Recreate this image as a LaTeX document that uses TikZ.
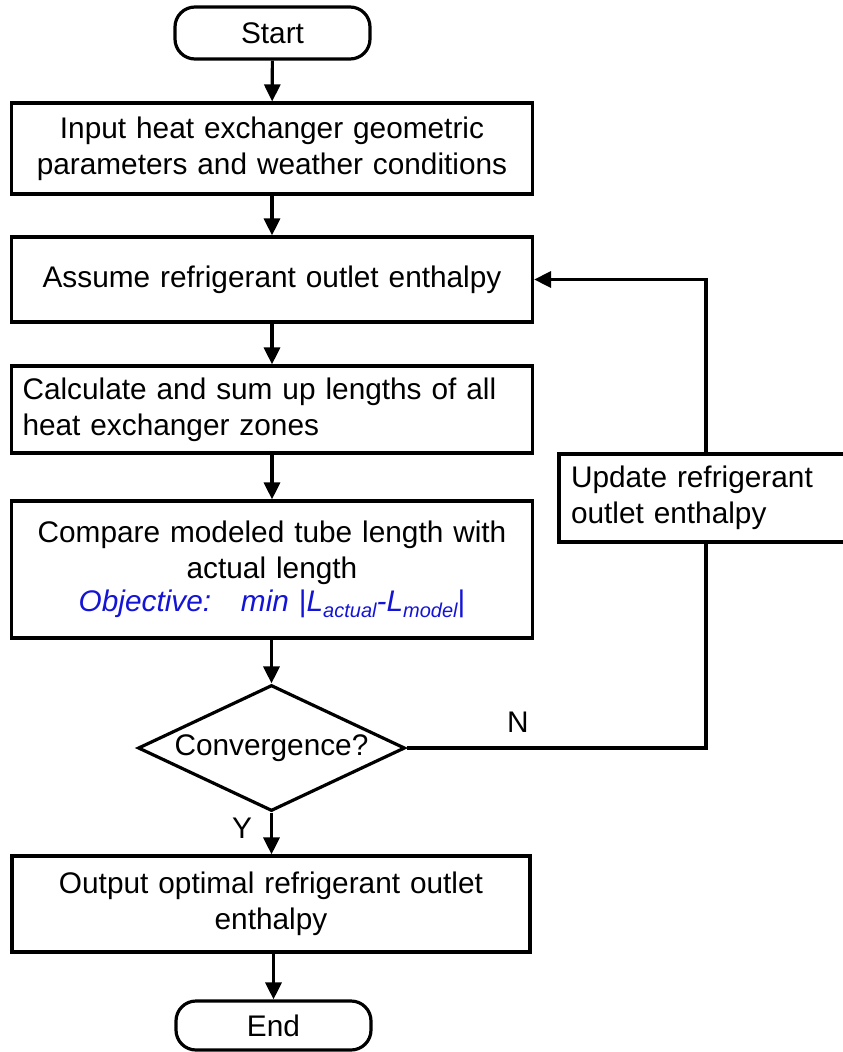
\documentclass[tikz,border=0pt]{standalone}
\usepackage{fontspec}
\setmainfont{Liberation Sans}
\usetikzlibrary{arrows.meta,shapes.geometric}
\definecolor{objblue}{RGB}{20,20,215}

% subscript set smaller and lowered
\newcommand{\lowsub}[1]{{\fontsize{20}{20}\selectfont\raisebox{-6pt}{#1}}}

\begin{document}
\begin{tikzpicture}[x=1pt,y=-1pt,
  font=\fontsize{29.8}{36}\selectfont,
  plain/.style={line width=3.2pt},
  flow/.style={line width=3.2pt, -{Triangle[length=17pt,width=16pt]}},
  procbox/.style={draw, rectangle, line width=3.2pt, inner xsep=11pt, inner ysep=0pt,
                  text width=499pt, align=center},
  term/.style={draw, rectangle, rounded corners=20pt, line width=3.2pt,
               minimum width=195pt, inner sep=0pt},
  decision/.style={draw, diamond, shape aspect=2.1, line width=3.2pt,
                   minimum width=267pt, minimum height=126pt, inner sep=0pt},
  lbl/.style={inner sep=0pt}
]
\useasboundingbox (0,0) rectangle (843,1052);
\clip (0,0) rectangle (843,1052);

% main column
\node[term, minimum height=52pt] (start) at (272.5,33) {Start};
\node[procbox, minimum height=91pt] (inp) at (272,148.5)
  {Input heat exchanger geometric\\parameters and weather conditions};
\node[procbox, minimum height=85pt] (assume) at (272,279.5)
  {Assume refrigerant outlet enthalpy};
\node[procbox, align=left, minimum height=87pt] (calc) at (272,409.5)
  {Calculate and sum up lengths of all\\heat exchanger zones};
\node[procbox, minimum height=137pt] (comp) at (272,569.5)
  {Compare modeled tube length with\\actual length\\[-3pt]
   {\color{objblue}\itshape Objective:\ \ \ min {\upshape|}L\lowsub{actual}-L\lowsub{model}{\upshape|}}};
\node[decision] (conv) at (271.5,748) {Convergence?};
\node[procbox, text width=496pt, minimum height=96pt] (out) at (271,904)
  {Output optimal refrigerant outlet\\enthalpy};
\node[term, minimum height=49pt] (end) at (273.5,1025.5) {End};

% update box on the return path
\node[draw, rectangle, line width=3.2pt, inner xsep=12pt, inner ysep=0pt,
      text width=267pt, align=left, minimum height=88pt] (upd) at (704.5,498)
  {Update refrigerant\\outlet enthalpy};
\coordinate (fb) at (706,748);

% labels
\node[lbl] (nlab) at (518,722) {N};
\node[lbl] (ylab) at (242,828) {Y};

% connectors
\draw[flow] (start) -- (inp);
\draw[flow] (inp) -- (assume);
\draw[flow] (assume) -- (calc);
\draw[flow] (calc) -- (comp);
\draw[flow] (comp.south -| conv.north) -- (conv.north);
\draw[flow] (conv.south) -- (out.north -| conv.south);
\draw[flow] (out.south -| end.north) -- (end.north);
\draw[plain] (conv.east) -- (fb) -- (upd.south -| fb);
\draw[flow] (upd.north -| fb) |- (assume.east);
\end{tikzpicture}
\end{document}
